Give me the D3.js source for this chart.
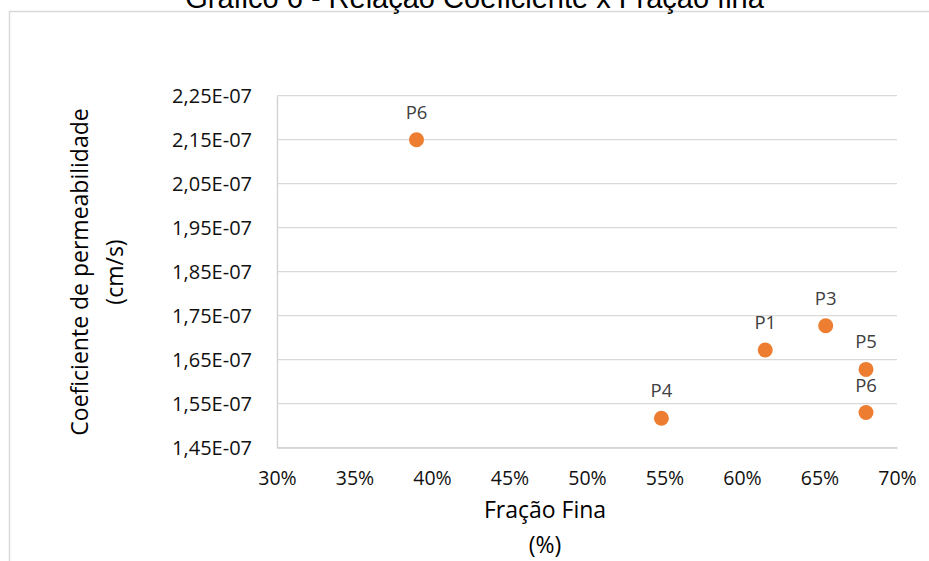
<!DOCTYPE html>
<html>
<head>
<meta charset="utf-8">
<script src="https://cdn.jsdelivr.net/npm/d3@7"></script>
<style>
  html, body { margin: 0; padding: 0; background: #fff; overflow: hidden; }
  svg { display: block; }
</style>
</head>
<body>
<svg id="chart" width="929" height="561"></svg>
<script>
// Sample points: fine fraction (share) vs. permeability coefficient (cm/s)
const pointNames = ["P6", "P4", "P1", "P3", "P5", "P6"];
const fineFraction = [0.390, 0.548, 0.615, 0.654, 0.680, 0.680];
const permeability = [2.15e-7, 1.517e-7, 1.672e-7, 1.727e-7, 1.628e-7, 1.530e-7];

// Axis ticks
const xTicks = [0.30, 0.35, 0.40, 0.45, 0.50, 0.55, 0.60, 0.65, 0.70];
const yTicks = [1.45e-7, 1.55e-7, 1.65e-7, 1.75e-7, 1.85e-7, 1.95e-7, 2.05e-7, 2.15e-7, 2.25e-7];

const titleText = "Gráfico 6 - Relação Coeficiente x Fração fina";
const yTitleLines = ["Coeficiente de permeabilidade", "(cm/s)"];
const xTitleLines = ["Fração Fina", "(%)"];

const svg = d3.select("#chart");
const plot = { left: 277, right: 897, top: 95.7, bottom: 447.7 };

const x = d3.scaleLinear().domain([0.30, 0.70]).range([plot.left, plot.right]);
const y = d3.scaleLinear().domain([1.45e-7, 2.25e-7]).range([plot.bottom, plot.top]);

// Scientific label with comma decimals, e.g. 2,25E-07
function sciLabel(v) {
  const [m, e] = v.toExponential(2).split("e");
  const exp = parseInt(e, 10);
  const sign = exp < 0 ? "-" : "+";
  return m.replace(".", ",") + "E" + sign + String(Math.abs(exp)).padStart(2, "0");
}

const font = "'Open Sans', 'Noto Sans', sans-serif";

// Outer chart frame
svg.append("rect")
  .attr("x", 9.5).attr("y", 11.5)
  .attr("width", 1000).attr("height", 700)
  .attr("fill", "none")
  .attr("stroke", "#d9d9d9")
  .attr("stroke-width", 1.5);

// Title
svg.append("text")
  .attr("x", 474.5).attr("y", 7.5)
  .attr("text-anchor", "middle")
  .style("font-family", "'Liberation Sans', Arial, sans-serif")
  .style("font-size", "29px")
  .attr("fill", "#000")
  .text(titleText);

// Horizontal gridlines
svg.append("g").selectAll("line")
  .data(yTicks)
  .join("line")
  .attr("x1", plot.left).attr("x2", plot.right)
  .attr("y1", d => y(d)).attr("y2", d => y(d))
  .attr("stroke", "#d9d9d9")
  .attr("stroke-width", 1.3);

// Y axis
const yAxis = svg.append("g")
  .attr("transform", `translate(${plot.left},0)`)
  .call(d3.axisLeft(y).tickValues(yTicks).tickFormat(sciLabel).tickSize(0).tickPadding(25));
yAxis.select(".domain").attr("stroke", "#d0d0d0").attr("stroke-width", 1.3);
yAxis.selectAll("text")
  .style("font-family", font).style("font-size", "20px").attr("fill", "#111");

// X axis
const xAxis = svg.append("g")
  .attr("transform", `translate(0,${plot.bottom})`)
  .call(d3.axisBottom(x).tickValues(xTicks).tickFormat(d3.format(".0%")).tickSize(0).tickPadding(23));
xAxis.select(".domain").attr("stroke", "#d0d0d0").attr("stroke-width", 1.3);
xAxis.selectAll("text")
  .style("font-family", font).style("font-size", "19.5px").attr("fill", "#111");

// Y axis title (two lines, rotated)
svg.append("g").selectAll("text")
  .data(yTitleLines)
  .join("text")
  .attr("transform", (d, i) => `translate(${80 + i * 35},272) rotate(-90)`)
  .attr("text-anchor", "middle")
  .attr("dy", "0.35em")
  .style("font-family", font).style("font-size", "23px")
  .attr("fill", "#000")
  .text(d => d);

// X axis title (two lines)
svg.append("g").selectAll("text")
  .data(xTitleLines)
  .join("text")
  .attr("x", 545)
  .attr("y", (d, i) => 518 + i * 35)
  .attr("text-anchor", "middle")
  .style("font-family", font).style("font-size", "23px")
  .attr("fill", "#000")
  .text(d => d);

const pts = pointNames.map((n, i) => ({ name: n, fx: fineFraction[i], k: permeability[i] }));

// Markers
svg.append("g").selectAll("circle")
  .data(pts)
  .join("circle")
  .attr("cx", d => x(d.fx))
  .attr("cy", d => y(d.k))
  .attr("r", 7.5)
  .attr("fill", "#ED7D31");

// Point labels
svg.append("g").selectAll("text")
  .data(pts)
  .join("text")
  .attr("x", d => x(d.fx))
  .attr("y", d => y(d.k) - 21)
  .attr("text-anchor", "middle")
  .style("font-family", font).style("font-size", "18.5px")
  .attr("fill", "#404040")
  .text(d => d.name);
</script>
</body>
</html>
